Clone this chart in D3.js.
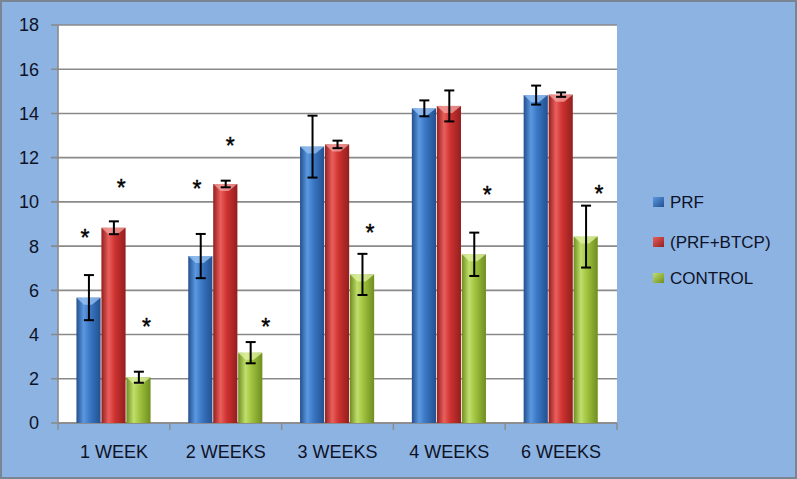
<!DOCTYPE html>
<html><head><meta charset="utf-8">
<script src="https://cdn.jsdelivr.net/npm/d3@7/dist/d3.min.js"></script>
<style>body{margin:0;padding:0;background:#8db3e2;}svg{display:block;}</style>
</head><body><svg id="c" width="797" height="479"></svg>
<script>
const categories = ["1 WEEK","2 WEEKS","3 WEEKS","4 WEEKS","6 WEEKS"];
const seriesNames = ["PRF","(PRF+BTCP)","CONTROL"];
const prf      = [5.67, 7.55, 12.50, 14.23, 14.83];
const prfBtcp  = [8.83, 10.81, 12.60, 14.34, 14.85];
const control  = [2.07, 3.18, 6.72, 7.63, 8.43];
const prfErr     = [1.02, 1.00, 1.40, 0.36, 0.43];
const prfBtcpErr = [0.29, 0.15, 0.17, 0.70, 0.10];
const controlErr = [0.25, 0.48, 0.93, 0.98, 1.40];
const yTicks = [0,2,4,6,8,10,12,14,16,18];
// significance stars: category, series index, value level of the star, horizontal shift in bar widths
const stars = [
  {cat:"1 WEEK", s:0, v:8.59, dx:-0.16},
  {cat:"1 WEEK", s:1, v:10.85, dx:0.29},
  {cat:"1 WEEK", s:2, v:4.57, dx:0.30},
  {cat:"2 WEEKS", s:0, v:10.81, dx:-0.15},
  {cat:"2 WEEKS", s:1, v:12.77, dx:0.18},
  {cat:"2 WEEKS", s:2, v:4.57, dx:0.60},
  {cat:"3 WEEKS", s:2, v:8.82, dx:0.30},
  {cat:"4 WEEKS", s:2, v:10.54, dx:0.52},
  {cat:"6 WEEKS", s:2, v:10.58, dx:0.52}
];

const values = [prf, prfBtcp, control];
const errs = [prfErr, prfBtcpErr, controlErr];
const colors = [
  {dark:"#22508f", mid:"#3b78c6", light:"#5c98e0", top:"#9cc6f4"},
  {dark:"#921f1e", mid:"#cf3331", light:"#ea5f5c", top:"#f3a5a3"},
  {dark:"#6f8e20", mid:"#a0c33f", light:"#c0de6c", top:"#e0f1a6"}
];

const svg = d3.select("#c");
const W = 797, H = 479;
const L = 58, R = 617, T = 25, B = 423;
const font = "'Liberation Sans', Arial, sans-serif";
const txt = "#0e1226";

svg.append("rect").attr("x",0).attr("y",0).attr("width",W).attr("height",H).attr("fill","#8db3e2");
svg.append("rect").attr("x",L).attr("y",T).attr("width",R-L).attr("height",B-T).attr("fill","#ffffff");

const defs = svg.append("defs");
colors.forEach((c,i)=>{
  const g = defs.append("linearGradient").attr("id","g"+i).attr("x1","0").attr("x2","1").attr("y1","0").attr("y2","0");
  g.append("stop").attr("offset","0").attr("stop-color",c.dark);
  g.append("stop").attr("offset","0.3").attr("stop-color",c.light);
  g.append("stop").attr("offset","0.55").attr("stop-color",c.mid);
  g.append("stop").attr("offset","1").attr("stop-color",c.dark);
  const lg = defs.append("linearGradient").attr("id","lg"+i).attr("x1","0").attr("x2","1").attr("y1","0").attr("y2","1");
  lg.append("stop").attr("offset","0").attr("stop-color",c.light);
  lg.append("stop").attr("offset","1").attr("stop-color",c.dark);
});

const y = d3.scaleLinear().domain([0,18]).range([B,T]);
const pi = 0.33;
const x0 = d3.scaleBand().domain(categories).range([L,R]).paddingInner(pi).paddingOuter(pi/2);
const x1 = d3.scaleBand().domain([0,1,2]).range([0,x0.bandwidth()]).padding(0);

// gridlines + y ticks
const gy = svg.append("g");
yTicks.forEach(t=>{
  gy.append("line").attr("x1",L-7).attr("x2",R).attr("y1",y(t)).attr("y2",y(t))
    .attr("stroke","#8a8a8a").attr("stroke-width",1.6);
  gy.append("text").attr("x",39).attr("y",y(t)).attr("dy","0.36em").attr("text-anchor","end")
    .attr("font-family",font).attr("font-size",18).attr("fill",txt).text(t);
});
svg.append("line").attr("x1",L).attr("x2",L).attr("y1",T).attr("y2",B).attr("stroke","#8a8a8a").attr("stroke-width",1.6);
svg.append("line").attr("x1",L).attr("x2",R).attr("y1",B).attr("y2",B).attr("stroke","#8a8a8a").attr("stroke-width",1.6);
const step = x0.step();
categories.forEach((c,i)=>{
  const bx = x0(c) - step*pi/2;
  svg.append("line").attr("x1",bx).attr("x2",bx).attr("y1",B).attr("y2",B+7).attr("stroke","#8a8a8a").attr("stroke-width",1.4);
  svg.append("text").attr("x",x0(c)+x0.bandwidth()/2).attr("y",458).attr("text-anchor","middle")
    .attr("font-family",font).attr("font-size",18).attr("fill",txt).text(c);
});
svg.append("line").attr("x1",R).attr("x2",R).attr("y1",B).attr("y2",B+7).attr("stroke","#8a8a8a").attr("stroke-width",1.4);

// bars
const bw = x1.bandwidth();
categories.forEach((c,ci)=>{
  [0,1,2].forEach(s=>{
    const v = values[s][ci];
    const bx = x0(c)+x1(s);
    const by = y(v);
    svg.append("rect").attr("x",bx).attr("y",by).attr("width",bw-0.8).attr("height",B-by)
      .attr("fill","url(#g"+s+")");
    svg.append("path").attr("d",`M${bx},${by} L${bx+bw-0.8},${by} L${bx+bw*0.62},${by+7} L${bx+bw*0.3},${by+7} Z`)
      .attr("fill",colors[s].top).attr("opacity",0.75);
  });
});

// error bars
categories.forEach((c,ci)=>{
  [0,1,2].forEach(s=>{
    const v = values[s][ci], e = errs[s][ci];
    const cx = x0(c)+x1(s)+bw/2;
    const g = svg.append("g").attr("stroke","#000").attr("stroke-width",2);
    g.append("line").attr("x1",cx).attr("x2",cx).attr("y1",y(v+e)).attr("y2",y(v-e));
    g.append("line").attr("x1",cx-5).attr("x2",cx+5).attr("y1",y(v+e)).attr("y2",y(v+e));
    g.append("line").attr("x1",cx-5).attr("x2",cx+5).attr("y1",y(v-e)).attr("y2",y(v-e));
  });
});

// stars
stars.forEach(st=>{
  const cx = x0(st.cat)+x1(st.s)+bw/2+st.dx*bw;
  svg.append("text").attr("x",cx).attr("y",y(st.v)+13).attr("text-anchor","middle")
    .attr("font-family",font).attr("font-size",23).attr("fill","#000").attr("stroke","#000").attr("stroke-width",0.4).text("*");
});

// legend
const leg = svg.append("g");
const legY = [202,242,278];
seriesNames.forEach((n,i)=>{
  leg.append("rect").attr("x",653).attr("y",legY[i]-5).attr("width",11).attr("height",10).attr("fill","url(#lg"+i+")");
  leg.append("text").attr("x",670).attr("y",legY[i]).attr("dy","0.36em")
    .attr("font-family",font).attr("font-size",17).attr("fill",txt).text(n);
});

svg.append("rect").attr("x",1).attr("y",1).attr("width",W-2).attr("height",H-2).attr("fill","none")
  .attr("stroke","#7a8594").attr("stroke-width",2);
</script></body></html>
